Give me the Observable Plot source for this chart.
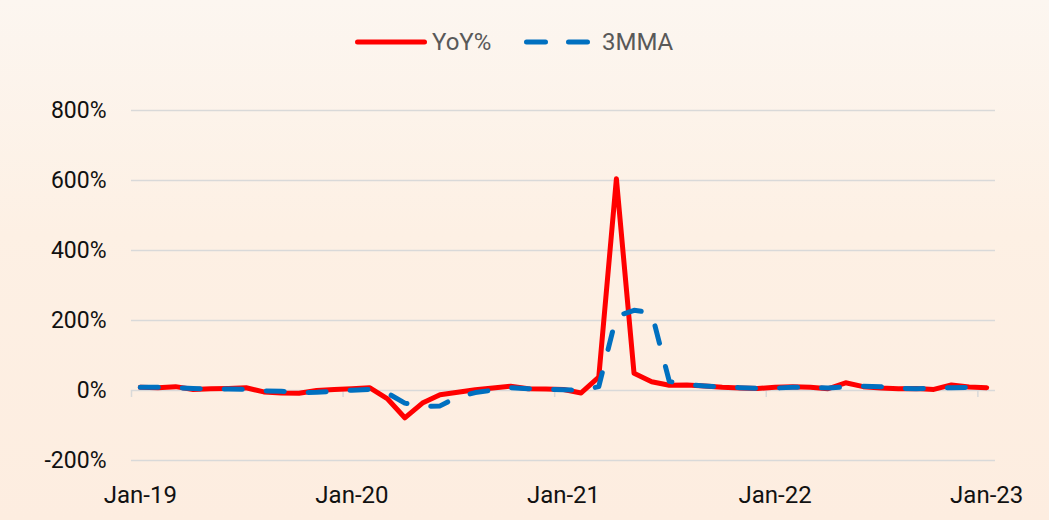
<!DOCTYPE html>
<html>
<head>
<meta charset="utf-8">
<script src="https://cdn.jsdelivr.net/npm/d3@7"></script>
<script src="https://cdn.jsdelivr.net/npm/@observablehq/plot@0.6"></script>
<style>
  html, body { margin: 0; padding: 0; }
  body {
    width: 1049px; height: 520px; overflow: hidden;
    background: linear-gradient(to bottom, #fcf6f0 0%, #fdf0e4 45%, #fdede0 100%);
    font-family: Roboto, "Noto Sans", sans-serif;
  }
  #legend { display: block; }
  #chart svg { display: block; }
</style>
</head>
<body>
<svg id="legend" width="1049" height="80"></svg>
<div id="chart"></div>
<script>
// Categories: monthly, Jan-19 .. Jan-23
const months = d3.utcMonth.range(new Date(Date.UTC(2019, 0, 1)), new Date(Date.UTC(2023, 1, 1)));
const xTickIndex = [0, 12, 24, 36, 48];
const xTickLabels = ["Jan-19", "Jan-20", "Jan-21", "Jan-22", "Jan-23"];
const yTicks = [-200, 0, 200, 400, 600, 800];
const seriesNames = ["YoY%", "3MMA"];
const seriesColors = ["#ff0000", "#0070c0"];

// YoY %
const yoy = [9, 8, 11, 3, 5, 6, 8, -4, -7, -8, 0, 3, 5, 8,
  -23, -78, -36, -12, -5, 2, 7, 12, 5, 4, 3, -7,
  38, 605, 49, 25, 15, 16, 13, 9, 7, 6, 9, 11, 9,
  5, 22, 11, 7, 5, 6, 3, 16, 10, 8];
// 3-month moving average
const mma = [9, 9, 8, 6, 4, 4, 3, -1, -2, -6, -5, -2, 1, 3,
  -7, -36, -46, -44, -18, -6, 1, 8, 5, 4, 2, 0,
  11, 212, 229, 222, 26, 17, 13, 10, 8, 6, 7, 9, 9,
  7, 10, 12, 11, 6, 5, 6, 8, 9, 10];

const data = months.map((m, i) => ({i, month: m, yoy: yoy[i], mma: mma[i]}));
const boundaries = xTickIndex.map(d => d - 0.5);

// Legend
const lg = d3.select("#legend");
lg.append("line").attr("x1", 357.5).attr("x2", 424.5).attr("y1", 42).attr("y2", 42)
  .attr("stroke", seriesColors[0]).attr("stroke-width", 5).attr("stroke-linecap", "round");
lg.append("text").attr("x", 432).attr("y", 42).attr("dy", "0.35em")
  .attr("font-size", 24).attr("fill", "#595959").attr("font-family", "Roboto").text(seriesNames[0]);
lg.append("line").attr("x1", 526.5).attr("x2", 587.5).attr("y1", 42).attr("y2", 42)
  .attr("stroke", seriesColors[1]).attr("stroke-width", 5).attr("stroke-linecap", "round")
  .attr("stroke-dasharray", "19,23");
lg.append("text").attr("x", 602).attr("y", 42).attr("dy", "0.35em")
  .attr("font-size", 24).attr("fill", "#595959").attr("font-family", "Roboto").text(seriesNames[1]);

const chart = Plot.plot({
  width: 1049,
  height: 440,
  marginTop: 30,
  marginBottom: 60,
  marginLeft: 131,
  marginRight: 54,
  style: {background: "transparent", fontFamily: "Roboto", color: "#111", overflow: "visible"},
  x: {type: "linear", domain: [-0.5, 48.5], axis: null, label: null},
  y: {domain: [-200, 800], axis: null, label: null},
  marks: [
    Plot.ruleY(yTicks, {stroke: "#d9d9d9", strokeWidth: 1.5}),
    Plot.ruleX(boundaries, {x: d => d, y1: 0, y2: 0, insetBottom: -7, stroke: "#d9d9d9", strokeWidth: 1.5}),
    Plot.axisY({ticks: yTicks, tickSize: 0, tickPadding: 25, tickFormat: d => d + "%", fontSize: 23, label: null}),
    Plot.axisX({ticks: xTickIndex, tickSize: 0, tickPadding: 25, tickFormat: d => xTickLabels[xTickIndex.indexOf(d)], fontSize: 24, label: null}),
    Plot.line(data, {x: "i", y: "yoy", stroke: seriesColors[0], strokeWidth: 5, strokeLinejoin: "round", strokeLinecap: "round"}),
    Plot.line(data, {x: "i", y: "mma", stroke: seriesColors[1], strokeWidth: 5, strokeLinejoin: "round", strokeLinecap: "round", strokeDasharray: "18,24"})
  ]
});
document.getElementById("chart").appendChild(chart);
</script>
</body>
</html>
